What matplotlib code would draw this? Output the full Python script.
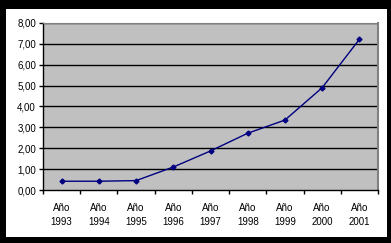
import matplotlib
matplotlib.use("Agg")
import matplotlib.pyplot as plt
from matplotlib.patches import Rectangle

years = ["1993", "1994", "1995", "1996", "1997", "1998", "1999", "2000", "2001"]
values = [0.42, 0.42, 0.45, 1.10, 1.87, 2.72, 3.35, 4.90, 7.22]
yticks = [0, 1, 2, 3, 4, 5, 6, 7, 8]
xlabels = ["Año\n" + y for y in years]

fig = plt.figure(figsize=(3.91, 2.43), dpi=100)
fig.patch.set_facecolor("black")
W, H = 391, 243
fig.patches.append(Rectangle((6 / W, 1 - 237 / H), (387 - 6) / W, (237 - 9) / H,
                             transform=fig.transFigure, facecolor="white",
                             edgecolor="none", zorder=0))

ax = fig.add_axes([43 / W, 1 - 190 / H, (378 - 43) / W, (190 - 23) / H])
ax.set_facecolor("#c0c0c0")
ax.set_zorder(1)

x = list(range(len(years)))
ax.plot(x, values, color="#000080", linewidth=1.0, marker="D", markersize=2.5, zorder=3)

ax.set_xlim(-0.5, len(years) - 0.5)
ax.set_ylim(0, 8)
ax.set_yticks(yticks)
ax.set_yticklabels([f"{v:.2f}".replace(".", ",") for v in yticks], fontsize=7,
                   family="Liberation Sans")
for v in yticks[1:]:
    ax.axhline(v, color="black", linewidth=1.0, zorder=2)

ax.set_xticks(x)
ax.set_xticklabels(xlabels, fontsize=7, family="Liberation Sans", linespacing=1.5)
ax.tick_params(axis="x", which="major", length=0, pad=9)
ax.set_xticks([i + 0.5 for i in range(-1, len(years))], minor=True)
ax.tick_params(axis="x", which="minor", length=3, direction="out", width=1)
ax.tick_params(axis="y", length=3, direction="out", width=1, pad=2)

ax.spines["right"].set_color("#808080")
ax.spines["right"].set_linewidth(1.5)
ax.spines["left"].set_linewidth(1.0)
ax.spines["bottom"].set_linewidth(1.0)
ax.spines["top"].set_color("#808080")
ax.spines["top"].set_linewidth(0.8)

fig.savefig("out.png", dpi=100, facecolor=fig.get_facecolor())
